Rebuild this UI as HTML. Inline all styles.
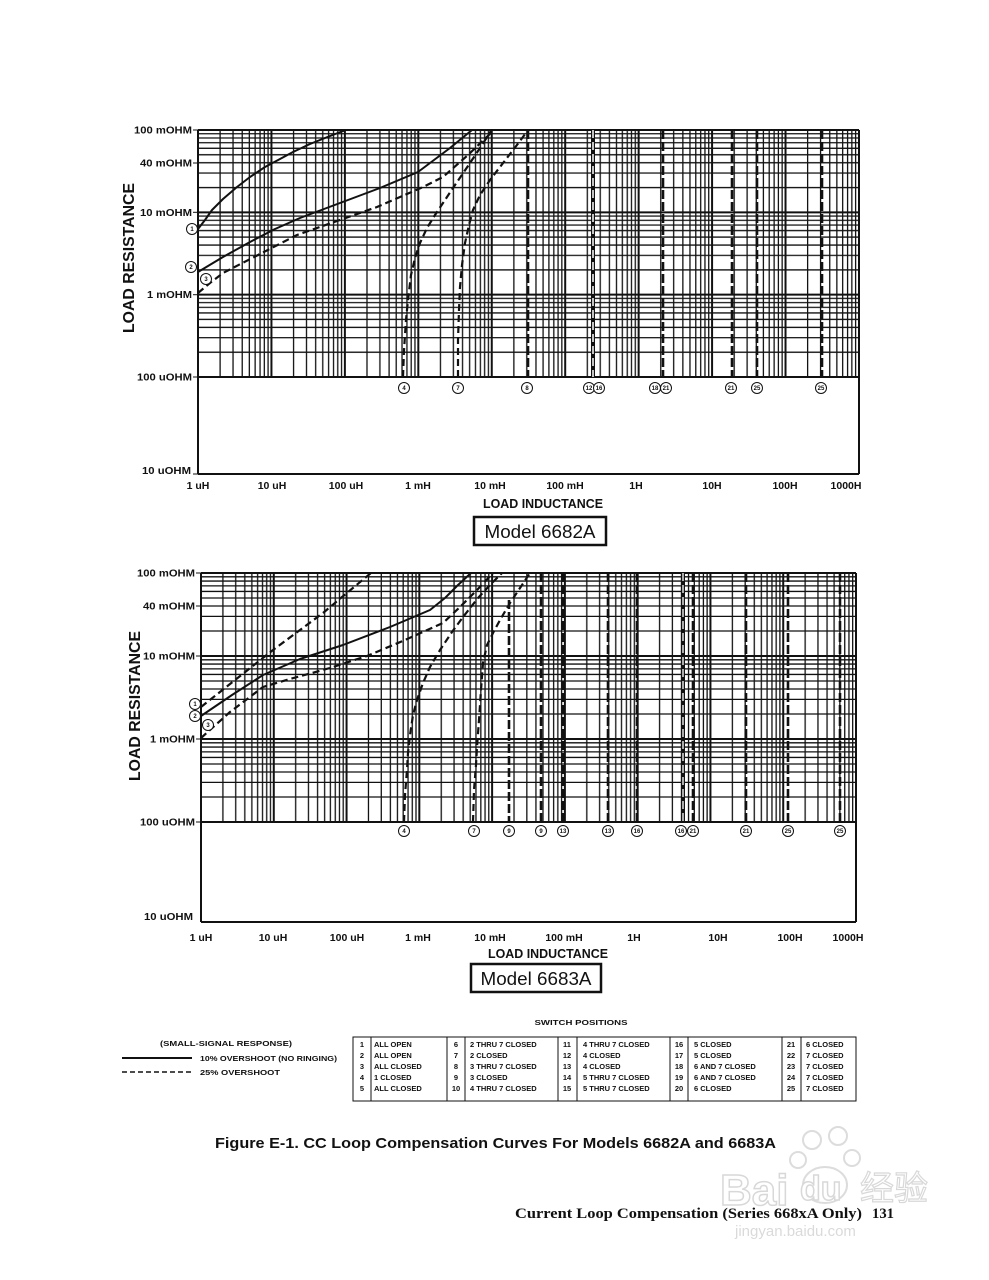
<!DOCTYPE html>
<html>
<head>
<meta charset="utf-8">
<style>
html,body{margin:0;padding:0;background:#fff;}
svg{display:block;}
text{font-family:"Liberation Sans",Arial,sans-serif;fill:#111;}
.b{font-weight:bold;}
.yl{font-size:10px;font-weight:bold;text-anchor:end;}
.xl{font-size:10.5px;font-weight:bold;text-anchor:middle;}
.cl{font-size:6px;font-weight:bold;text-anchor:middle;}
.tb{font-size:7.5px;font-weight:bold;}
.tn{font-size:7.5px;font-weight:bold;text-anchor:middle;}
</style>
</head>
<body>
<svg width="989" height="1280" viewBox="0 0 989 1280" xmlns="http://www.w3.org/2000/svg">
<defs>
  <pattern id="vx1" patternUnits="userSpaceOnUse" x="198" y="0" width="73.44" height="1280">
    <g stroke="#111" stroke-width="1.3">
      <line x1="22.11" y1="0" x2="22.11" y2="1280"/>
      <line x1="35.04" y1="0" x2="35.04" y2="1280"/>
      <line x1="44.22" y1="0" x2="44.22" y2="1280"/>
      <line x1="51.33" y1="0" x2="51.33" y2="1280"/>
      <line x1="57.14" y1="0" x2="57.14" y2="1280"/>
      <line x1="62.06" y1="0" x2="62.06" y2="1280"/>
      <line x1="66.32" y1="0" x2="66.32" y2="1280"/>
      <line x1="70.08" y1="0" x2="70.08" y2="1280"/>
    </g>
  </pattern>
  <pattern id="hy1" patternUnits="userSpaceOnUse" x="0" y="130" width="989" height="82.33">
    <g stroke="#111" stroke-width="1.3">
      <line x1="0" y1="3.77" x2="989" y2="3.77"/>
      <line x1="0" y1="7.98" x2="989" y2="7.98"/>
      <line x1="0" y1="12.75" x2="989" y2="12.75"/>
      <line x1="0" y1="18.27" x2="989" y2="18.27"/>
      <line x1="0" y1="24.77" x2="989" y2="24.77"/>
      <line x1="0" y1="32.77" x2="989" y2="32.77"/>
      <line x1="0" y1="43.05" x2="989" y2="43.05"/>
      <line x1="0" y1="57.55" x2="989" y2="57.55"/>
    </g>
  </pattern>
  <pattern id="vx2" patternUnits="userSpaceOnUse" x="201" y="0" width="72.78" height="1280">
    <g stroke="#111" stroke-width="1.3">
      <line x1="21.91" y1="0" x2="21.91" y2="1280"/>
      <line x1="34.72" y1="0" x2="34.72" y2="1280"/>
      <line x1="43.82" y1="0" x2="43.82" y2="1280"/>
      <line x1="50.87" y1="0" x2="50.87" y2="1280"/>
      <line x1="56.62" y1="0" x2="56.62" y2="1280"/>
      <line x1="61.50" y1="0" x2="61.50" y2="1280"/>
      <line x1="65.72" y1="0" x2="65.72" y2="1280"/>
      <line x1="69.44" y1="0" x2="69.44" y2="1280"/>
    </g>
  </pattern>
  <pattern id="hy2" patternUnits="userSpaceOnUse" x="0" y="573" width="989" height="83">
    <g stroke="#111" stroke-width="1.3">
      <line x1="0" y1="3.80" x2="989" y2="3.80"/>
      <line x1="0" y1="8.04" x2="989" y2="8.04"/>
      <line x1="0" y1="12.86" x2="989" y2="12.86"/>
      <line x1="0" y1="18.42" x2="989" y2="18.42"/>
      <line x1="0" y1="24.98" x2="989" y2="24.98"/>
      <line x1="0" y1="33.03" x2="989" y2="33.03"/>
      <line x1="0" y1="43.40" x2="989" y2="43.40"/>
      <line x1="0" y1="58.02" x2="989" y2="58.02"/>
    </g>
  </pattern>
</defs>

<rect x="0" y="0" width="989" height="1280" fill="#fff"/>

<!-- ================= TOP CHART (6682A) ================= -->
<rect x="198" y="130" width="661" height="247" fill="url(#vx1)"/>
<rect x="198" y="130" width="661" height="247" fill="url(#hy1)"/>
<g stroke="#111" stroke-width="2">
  <line x1="198" y1="130" x2="198" y2="474"/>
  <line x1="271.44" y1="130" x2="271.44" y2="377"/>
  <line x1="344.88" y1="130" x2="344.88" y2="377"/>
  <line x1="418.32" y1="130" x2="418.32" y2="377"/>
  <line x1="491.76" y1="130" x2="491.76" y2="377"/>
  <line x1="565.2" y1="130" x2="565.2" y2="377"/>
  <line x1="638.64" y1="130" x2="638.64" y2="377"/>
  <line x1="712.08" y1="130" x2="712.08" y2="377"/>
  <line x1="785.52" y1="130" x2="785.52" y2="377"/>
  <line x1="859" y1="130" x2="859" y2="474"/>
  <line x1="198" y1="130" x2="859" y2="130"/>
  <line x1="198" y1="212.33" x2="859" y2="212.33"/>
  <line x1="198" y1="294.67" x2="859" y2="294.67"/>
  <line x1="198" y1="377" x2="859" y2="377"/>
  <line x1="198" y1="474" x2="859" y2="474"/>
</g>
<g stroke="#111" stroke-width="1">
  <line x1="193" y1="130" x2="198" y2="130"/>
  <line x1="193" y1="163" x2="198" y2="163"/>
  <line x1="193" y1="212.3" x2="198" y2="212.3"/>
  <line x1="193" y1="294.7" x2="198" y2="294.7"/>
  <line x1="193" y1="377" x2="198" y2="377"/>
  <line x1="193" y1="474" x2="198" y2="474"/>
</g>
<text class="yl" x="192" y="133.5" textLength="58" lengthAdjust="spacingAndGlyphs">100 mOHM</text>
<text class="yl" x="192" y="166.5" textLength="52" lengthAdjust="spacingAndGlyphs">40 mOHM</text>
<text class="yl" x="192" y="216" textLength="52" lengthAdjust="spacingAndGlyphs">10 mOHM</text>
<text class="yl" x="192" y="298" textLength="45" lengthAdjust="spacingAndGlyphs">1 mOHM</text>
<text class="yl" x="192" y="380.5" textLength="55" lengthAdjust="spacingAndGlyphs">100 uOHM</text>
<text class="yl" x="191" y="474" textLength="49" lengthAdjust="spacingAndGlyphs">10 uOHM</text>
<text class="b" font-size="16" text-anchor="middle" textLength="150" lengthAdjust="spacingAndGlyphs" transform="translate(134,258) rotate(-90)">LOAD RESISTANCE</text>
<text class="xl" x="198" y="489">1 uH</text>
<text class="xl" x="272" y="489">10 uH</text>
<text class="xl" x="346" y="489">100 uH</text>
<text class="xl" x="418" y="489">1 mH</text>
<text class="xl" x="490" y="489">10 mH</text>
<text class="xl" x="565" y="489">100 mH</text>
<text class="xl" x="636" y="489">1H</text>
<text class="xl" x="712" y="489">10H</text>
<text class="xl" x="785" y="489">100H</text>
<text class="xl" x="846" y="489">1000H</text>
<text class="b" font-size="12.5" x="543" y="508" text-anchor="middle" textLength="120" lengthAdjust="spacingAndGlyphs">LOAD INDUCTANCE</text>
<rect x="474" y="517" width="132" height="28" fill="#fff" stroke="#111" stroke-width="2.5"/>
<text x="540" y="538" font-size="18.5" text-anchor="middle" textLength="111" lengthAdjust="spacingAndGlyphs">Model 6682A</text>

<g stroke="#111" stroke-width="2.6" stroke-dasharray="9 3" fill="none">
  <line x1="528" y1="130" x2="528" y2="377"/>
  <line x1="663" y1="130" x2="663" y2="377"/>
  <line x1="732" y1="130" x2="732" y2="377"/>
  <line x1="757" y1="130" x2="757" y2="377"/>
  <line x1="822" y1="130" x2="822" y2="377"/>
</g>
<line x1="593" y1="130" x2="593" y2="377" stroke="#111" stroke-width="4"/>
<line x1="593" y1="130" x2="593" y2="377" stroke="#fff" stroke-width="1.5" stroke-dasharray="8 4"/>

<g fill="none" stroke="#111" stroke-width="2" stroke-linejoin="round" stroke-linecap="round">
  <polyline points="198,229 205,220 212,210 223,199 237,187 250,177 265,167 280,159 293,152 310,144 325,138 343,131 346,130"/>
  <polyline points="198,272 223,257 250,242 275,229 300,218 340,203 380,188 418,172 430,163 450,148 472,130"/>
</g>
<g fill="none" stroke="#111" stroke-width="2.2" stroke-dasharray="7 4" stroke-linejoin="round">
  <polyline points="198,293 210,283 223,273 260,254 297,235 337,221 377,207 423,187 443,177 468,155 493,131"/>
  <polyline points="403,377 404,350 406,320 408,300 411,275 415,258 420,243 427,228 435,215 443,203 455,185 470,163 480,148 491,131"/>
  <polyline points="458,377 458,340 459,310 460,287 462,265 465,243 469,225 473,210 480,195 490,180 500,167 510,154 520,141 528,130"/>
</g>

<g fill="#fff" stroke="#111" stroke-width="1">
  <circle cx="192" cy="229" r="5.5"/>
  <circle cx="191" cy="267" r="5.5"/>
  <circle cx="206" cy="279" r="5.5"/>
  <circle cx="404" cy="388" r="5.5"/>
  <circle cx="458" cy="388" r="5.5"/>
  <circle cx="527" cy="388" r="5.5"/>
  <circle cx="589" cy="388" r="5.5"/>
  <circle cx="599" cy="388" r="5.5"/>
  <circle cx="655" cy="388" r="5.5"/>
  <circle cx="666" cy="388" r="5.5"/>
  <circle cx="731" cy="388" r="5.5"/>
  <circle cx="757" cy="388" r="5.5"/>
  <circle cx="821" cy="388" r="5.5"/>
</g>
<text class="cl" x="192" y="231">1</text>
<text class="cl" x="191" y="269">2</text>
<text class="cl" x="206" y="281">3</text>
<text class="cl" x="404" y="390">4</text>
<text class="cl" x="458" y="390">7</text>
<text class="cl" x="527" y="390">8</text>
<text class="cl" x="589" y="390">12</text>
<text class="cl" x="599" y="390">16</text>
<text class="cl" x="655" y="390">18</text>
<text class="cl" x="666" y="390">21</text>
<text class="cl" x="731" y="390">21</text>
<text class="cl" x="757" y="390">25</text>
<text class="cl" x="821" y="390">25</text>

<!-- ================= BOTTOM CHART (6683A) ================= -->
<rect x="201" y="573" width="655" height="249" fill="url(#vx2)"/>
<rect x="201" y="573" width="655" height="249" fill="url(#hy2)"/>
<g stroke="#111" stroke-width="2">
  <line x1="201" y1="573" x2="201" y2="922"/>
  <line x1="273.78" y1="573" x2="273.78" y2="822"/>
  <line x1="346.56" y1="573" x2="346.56" y2="822"/>
  <line x1="419.33" y1="573" x2="419.33" y2="822"/>
  <line x1="492.11" y1="573" x2="492.11" y2="822"/>
  <line x1="564.89" y1="573" x2="564.89" y2="822"/>
  <line x1="637.67" y1="573" x2="637.67" y2="822"/>
  <line x1="710.44" y1="573" x2="710.44" y2="822"/>
  <line x1="783.22" y1="573" x2="783.22" y2="822"/>
  <line x1="856" y1="573" x2="856" y2="922"/>
  <line x1="201" y1="573" x2="856" y2="573"/>
  <line x1="201" y1="656" x2="856" y2="656"/>
  <line x1="201" y1="739" x2="856" y2="739"/>
  <line x1="201" y1="822" x2="856" y2="822"/>
  <line x1="201" y1="922" x2="856" y2="922"/>
</g>
<g stroke="#111" stroke-width="1">
  <line x1="196" y1="573" x2="201" y2="573"/>
  <line x1="196" y1="606" x2="201" y2="606"/>
  <line x1="196" y1="656" x2="201" y2="656"/>
  <line x1="196" y1="739" x2="201" y2="739"/>
  <line x1="196" y1="822" x2="201" y2="822"/>
</g>
<text class="yl" x="195" y="576.5" textLength="58" lengthAdjust="spacingAndGlyphs">100 mOHM</text>
<text class="yl" x="195" y="609.5" textLength="52" lengthAdjust="spacingAndGlyphs">40 mOHM</text>
<text class="yl" x="195" y="659.5" textLength="52" lengthAdjust="spacingAndGlyphs">10 mOHM</text>
<text class="yl" x="195" y="742.5" textLength="45" lengthAdjust="spacingAndGlyphs">1 mOHM</text>
<text class="yl" x="195" y="825.5" textLength="55" lengthAdjust="spacingAndGlyphs">100 uOHM</text>
<text class="yl" x="193" y="920" textLength="49" lengthAdjust="spacingAndGlyphs">10 uOHM</text>
<text class="b" font-size="16" text-anchor="middle" textLength="150" lengthAdjust="spacingAndGlyphs" transform="translate(140,706) rotate(-90)">LOAD RESISTANCE</text>
<text class="xl" x="201" y="941">1 uH</text>
<text class="xl" x="273" y="941">10 uH</text>
<text class="xl" x="347" y="941">100 uH</text>
<text class="xl" x="418" y="941">1 mH</text>
<text class="xl" x="490" y="941">10 mH</text>
<text class="xl" x="564" y="941">100 mH</text>
<text class="xl" x="634" y="941">1H</text>
<text class="xl" x="718" y="941">10H</text>
<text class="xl" x="790" y="941">100H</text>
<text class="xl" x="848" y="941">1000H</text>
<text class="b" font-size="12.5" x="548" y="958" text-anchor="middle" textLength="120" lengthAdjust="spacingAndGlyphs">LOAD INDUCTANCE</text>
<rect x="471" y="964" width="130" height="28" fill="#fff" stroke="#111" stroke-width="2.5"/>
<text x="536" y="985" font-size="18.5" text-anchor="middle" textLength="111" lengthAdjust="spacingAndGlyphs">Model 6683A</text>

<g stroke="#111" stroke-width="2.6" stroke-dasharray="9 3" fill="none">
  <line x1="509" y1="600" x2="509" y2="822"/>
  <line x1="541" y1="573" x2="541" y2="822"/>
  <line x1="563" y1="573" x2="563" y2="822"/>
  <line x1="608" y1="573" x2="608" y2="822"/>
  <line x1="637" y1="573" x2="637" y2="822"/>
  <line x1="693" y1="573" x2="693" y2="822"/>
  <line x1="746" y1="573" x2="746" y2="822"/>
  <line x1="788" y1="573" x2="788" y2="822"/>
  <line x1="840" y1="573" x2="840" y2="822"/>
</g>
<line x1="683" y1="573" x2="683" y2="822" stroke="#111" stroke-width="4"/>
<line x1="683" y1="573" x2="683" y2="822" stroke="#fff" stroke-width="1.3" stroke-dasharray="8 4"/>

<g fill="none" stroke="#111" stroke-width="2" stroke-linejoin="round" stroke-linecap="round">
  <polyline points="201,716 232,695 263,675 300,659 343,645 390,627 430,610 445,598 458,585 471,573"/>
</g>
<g fill="none" stroke="#111" stroke-width="2.2" stroke-dasharray="7 4" stroke-linejoin="round">
  <polyline points="201,707 230,684 273,650 300,630 323,613 348,592 371,573"/>
  <polyline points="201,738 230,712 263,687 290,679 330,668 367,656 405,640 443,623 460,607 477,590 493,573"/>
  <polyline points="404,822 405,795 407,770 408,753 410,735 413,715 417,700 423,683 430,667 440,650 452,632 463,617 478,598 490,585 502,573"/>
  <polyline points="473,822 474,790 476,765 477,747 479,720 481,690 483,663 487,645 493,633 500,620 510,603 520,588 530,573"/>
</g>

<g fill="#fff" stroke="#111" stroke-width="1">
  <circle cx="195" cy="704" r="5.5"/>
  <circle cx="195" cy="716" r="5.5"/>
  <circle cx="208" cy="725" r="5.5"/>
  <circle cx="404" cy="831" r="5.5"/>
  <circle cx="474" cy="831" r="5.5"/>
  <circle cx="509" cy="831" r="5.5"/>
  <circle cx="541" cy="831" r="5.5"/>
  <circle cx="563" cy="831" r="5.5"/>
  <circle cx="608" cy="831" r="5.5"/>
  <circle cx="637" cy="831" r="5.5"/>
  <circle cx="681" cy="831" r="5.5"/>
  <circle cx="693" cy="831" r="5.5"/>
  <circle cx="746" cy="831" r="5.5"/>
  <circle cx="788" cy="831" r="5.5"/>
  <circle cx="840" cy="831" r="5.5"/>
</g>
<text class="cl" x="195" y="706">1</text>
<text class="cl" x="195" y="718">2</text>
<text class="cl" x="208" y="727">3</text>
<text class="cl" x="404" y="833">4</text>
<text class="cl" x="474" y="833">7</text>
<text class="cl" x="509" y="833">9</text>
<text class="cl" x="541" y="833">9</text>
<text class="cl" x="563" y="833">13</text>
<text class="cl" x="608" y="833">13</text>
<text class="cl" x="637" y="833">16</text>
<text class="cl" x="681" y="833">16</text>
<text class="cl" x="693" y="833">21</text>
<text class="cl" x="746" y="833">21</text>
<text class="cl" x="788" y="833">25</text>
<text class="cl" x="840" y="833">25</text>

<!-- ================= LEGEND ================= -->
<text class="tb" x="226" y="1046" text-anchor="middle" textLength="132" lengthAdjust="spacingAndGlyphs">(SMALL-SIGNAL RESPONSE)</text>
<line x1="122" y1="1058" x2="192" y2="1058" stroke="#111" stroke-width="2"/>
<text class="tb" x="200" y="1061" textLength="137" lengthAdjust="spacingAndGlyphs">10% OVERSHOOT (NO RINGING)</text>
<line x1="122" y1="1072" x2="192" y2="1072" stroke="#111" stroke-width="1.5" stroke-dasharray="5 3"/>
<text class="tb" x="200" y="1075" textLength="80" lengthAdjust="spacingAndGlyphs">25% OVERSHOOT</text>

<text class="tb" x="581" y="1025" text-anchor="middle" textLength="93" lengthAdjust="spacingAndGlyphs">SWITCH POSITIONS</text>

<g stroke="#111" stroke-width="1" fill="none">
  <rect x="353" y="1037" width="503" height="64"/>
  <line x1="371" y1="1037" x2="371" y2="1101"/>
  <line x1="447" y1="1037" x2="447" y2="1101"/>
  <line x1="465" y1="1037" x2="465" y2="1101"/>
  <line x1="558" y1="1037" x2="558" y2="1101"/>
  <line x1="577" y1="1037" x2="577" y2="1101"/>
  <line x1="670" y1="1037" x2="670" y2="1101"/>
  <line x1="688" y1="1037" x2="688" y2="1101"/>
  <line x1="782" y1="1037" x2="782" y2="1101"/>
  <line x1="801" y1="1037" x2="801" y2="1101"/>
</g>
<text class="tn" x="362" y="1047">1</text><text class="tb" x="374" y="1047">ALL OPEN</text>
<text class="tn" x="362" y="1058">2</text><text class="tb" x="374" y="1058">ALL OPEN</text>
<text class="tn" x="362" y="1069">3</text><text class="tb" x="374" y="1069">ALL CLOSED</text>
<text class="tn" x="362" y="1080">4</text><text class="tb" x="374" y="1080">1 CLOSED</text>
<text class="tn" x="362" y="1091">5</text><text class="tb" x="374" y="1091">ALL CLOSED</text>
<text class="tn" x="456" y="1047">6</text><text class="tb" x="470" y="1047">2 THRU 7 CLOSED</text>
<text class="tn" x="456" y="1058">7</text><text class="tb" x="470" y="1058">2 CLOSED</text>
<text class="tn" x="456" y="1069">8</text><text class="tb" x="470" y="1069">3 THRU 7 CLOSED</text>
<text class="tn" x="456" y="1080">9</text><text class="tb" x="470" y="1080">3 CLOSED</text>
<text class="tn" x="456" y="1091">10</text><text class="tb" x="470" y="1091">4 THRU 7 CLOSED</text>
<text class="tn" x="567" y="1047">11</text><text class="tb" x="583" y="1047">4 THRU 7 CLOSED</text>
<text class="tn" x="567" y="1058">12</text><text class="tb" x="583" y="1058">4 CLOSED</text>
<text class="tn" x="567" y="1069">13</text><text class="tb" x="583" y="1069">4 CLOSED</text>
<text class="tn" x="567" y="1080">14</text><text class="tb" x="583" y="1080">5 THRU 7 CLOSED</text>
<text class="tn" x="567" y="1091">15</text><text class="tb" x="583" y="1091">5 THRU 7 CLOSED</text>
<text class="tn" x="679" y="1047">16</text><text class="tb" x="694" y="1047">5 CLOSED</text>
<text class="tn" x="679" y="1058">17</text><text class="tb" x="694" y="1058">5 CLOSED</text>
<text class="tn" x="679" y="1069">18</text><text class="tb" x="694" y="1069">6 AND 7 CLOSED</text>
<text class="tn" x="679" y="1080">19</text><text class="tb" x="694" y="1080">6 AND 7 CLOSED</text>
<text class="tn" x="679" y="1091">20</text><text class="tb" x="694" y="1091">6 CLOSED</text>
<text class="tn" x="791" y="1047">21</text><text class="tb" x="806" y="1047">6 CLOSED</text>
<text class="tn" x="791" y="1058">22</text><text class="tb" x="806" y="1058">7 CLOSED</text>
<text class="tn" x="791" y="1069">23</text><text class="tb" x="806" y="1069">7 CLOSED</text>
<text class="tn" x="791" y="1080">24</text><text class="tb" x="806" y="1080">7 CLOSED</text>
<text class="tn" x="791" y="1091">25</text><text class="tb" x="806" y="1091">7 CLOSED</text>

<!-- watermark (faint) -->
<g fill="none" stroke="#dcdcdc" stroke-width="2">
  <circle cx="812" cy="1140" r="9"/>
  <circle cx="838" cy="1136" r="9"/>
  <circle cx="798" cy="1160" r="8"/>
  <circle cx="852" cy="1158" r="8"/>
  <ellipse cx="825" cy="1185" rx="22" ry="18"/>
</g>
<text x="720" y="1205" font-size="44" font-weight="bold" style="fill:#fff;stroke:#d8d8d8;stroke-width:1.5px;">Bai</text>
<text x="800" y="1200" font-size="34" font-weight="bold" style="fill:#fff;stroke:#d8d8d8;stroke-width:1.5px;">du</text>
<text x="860" y="1200" font-size="34" style='fill:#fff;stroke:#d8d8d8;stroke-width:1.2px;font-family:"Liberation Sans","Noto Sans CJK SC",sans-serif'>经验</text>
<text x="735" y="1236" font-size="15" style="fill:#dadada;">jingyan.baidu.com</text>

<!-- captions -->
<text class="b" x="215" y="1148" font-size="15" textLength="561" lengthAdjust="spacingAndGlyphs">Figure E-1. CC Loop Compensation Curves For Models 6682A and 6683A</text>
<text x="515" y="1218" font-size="15" font-weight="bold" textLength="347" lengthAdjust="spacingAndGlyphs" style='font-family:"Liberation Serif",serif'>Current Loop Compensation (Series 668xA Only)</text>
<text x="872" y="1218" font-size="15" font-weight="bold" textLength="22" lengthAdjust="spacingAndGlyphs" style='font-family:"Liberation Serif",serif'>131</text>
</svg>
</body>
</html>
